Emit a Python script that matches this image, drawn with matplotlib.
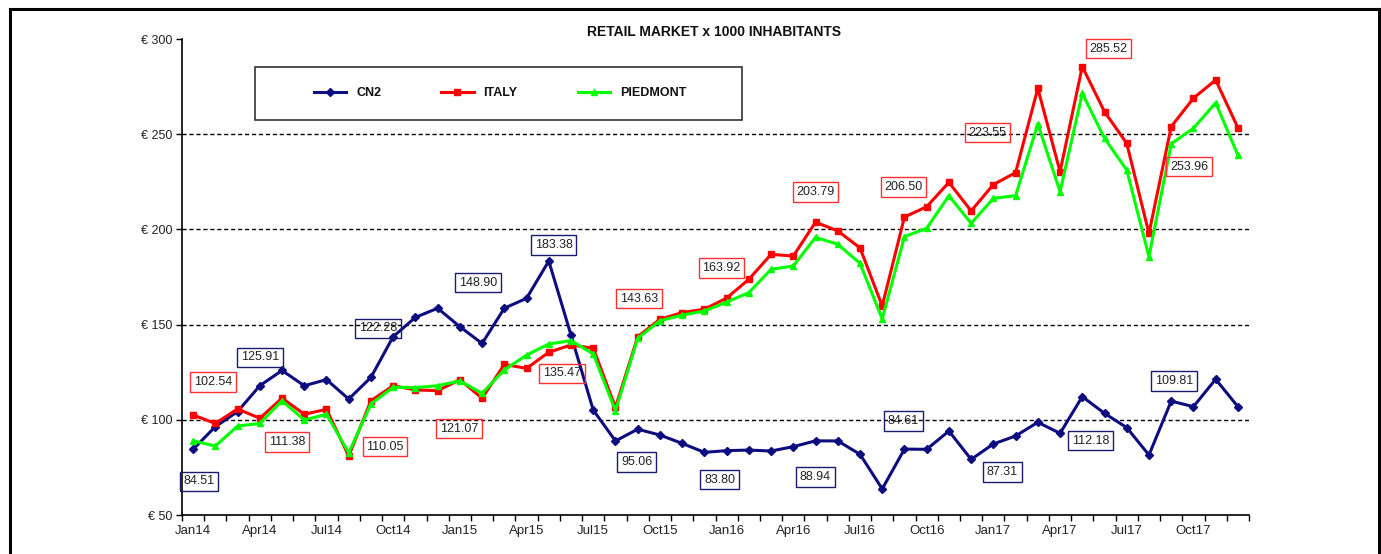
import matplotlib
matplotlib.use("Agg")
import matplotlib.pyplot as plt
from matplotlib.patches import Rectangle
from matplotlib.lines import Line2D

plt.rcParams['font.family'] = ['Liberation Sans', 'DejaVu Sans']

months = ["Jan", "Feb", "Mar", "Apr", "May", "Jun", "Jul", "Aug", "Sep", "Oct", "Nov", "Dec"]
categories = [m + y for y in ["14", "15", "16", "17"] for m in months]
tick_labels = [c for i, c in enumerate(categories) if i % 3 == 0]

cn2 = [84.51, 96.4, 104.3, 117.9, 125.91, 117.9, 121.1, 110.9, 122.28, 143.7, 153.8, 158.6,
       148.90, 140.1, 158.6, 163.8, 183.38, 144.5, 105.1, 88.9, 95.06, 92.0, 87.6, 82.9,
       83.80, 84.1, 83.6, 85.9, 88.94, 88.9, 81.9, 63.69, 84.61, 84.5, 94.1, 79.2,
       87.31, 91.5, 98.7, 92.9, 112.18, 103.4, 95.9, 81.5, 109.81, 106.9, 121.3, 106.9]
italy = [102.54, 98.1, 105.7, 100.8, 111.38, 102.9, 105.5, 81.0, 110.05, 117.9, 115.7, 115.3,
         121.07, 111.3, 129.1, 127.0, 135.47, 139.3, 137.6, 106.5, 143.63, 152.8, 156.3, 158.1,
         163.92, 173.8, 186.9, 186.0, 203.79, 199.2, 190.3, 159.8, 206.50, 211.9, 224.7, 209.7,
         223.55, 229.8, 274.1, 230.3, 285.52, 261.8, 245.2, 197.9, 253.96, 268.9, 278.5, 253.4]
piedmont = [89.0, 86.2, 96.7, 98.1, 110.0, 99.9, 102.9, 82.7, 108.3, 117.1, 116.9, 117.9,
            120.4, 113.9, 126.2, 134.0, 139.8, 141.6, 134.6, 104.8, 142.8, 152.0, 155.0, 157.1,
            161.8, 166.8, 179.0, 180.8, 195.8, 192.2, 182.2, 153.0, 196.2, 200.6, 217.7, 203.2,
            216.3, 217.7, 255.4, 219.8, 271.5, 247.8, 231.2, 185.7, 244.9, 253.1, 266.5, 239.1]

series_names = ["CN2", "ITALY", "PIEDMONT"]
series_colors = ["#0d0d80", "#ff0000", "#00ff00"]

# data labels: (index, offset in pixels)
cn2_labels = [(0, (6, -32)), (4, (-22, 13)), (8, (7, 49)), (12, (18, 44)), (16, (5, 16)),
              (20, (-1, -33)), (24, (-7, -29)), (28, (0, -36)), (32, (-1, 28)),
              (36, (9, -28)), (40, (8, -44)), (44, (3, 20))]
italy_labels = [(0, (20, 33)), (4, (5, -44)), (8, (14, -46)), (12, (-1, -49)), (16, (13, -21)),
                (20, (1, 38)), (24, (-5, 30)), (28, (0, 30)), (32, (-1, 30)),
                (36, (-6, 52)), (40, (26, 18)), (44, (18, -40))]

W, H = 1381, 554
fig = plt.figure(figsize=(W / 100, H / 100), dpi=100)
ax = fig.add_axes([182 / W, 1 - 515 / H, (1249 - 182) / W, (515 - 39) / H])

x = list(range(len(categories)))
ax.plot(x, cn2, color=series_colors[0], lw=2.2, marker="D", ms=4.5, label=series_names[0], zorder=3)
ax.plot(x, italy, color=series_colors[1], lw=2.2, marker="s", ms=5, label=series_names[1], zorder=4)
ax.plot(x, piedmont, color=series_colors[2], lw=2.2, marker="^", ms=4.5, label=series_names[2], zorder=5)

ax.set_xlim(-0.5, len(categories) - 0.5)
ax.set_ylim(50, 300)
yt = [50, 100, 150, 200, 250, 300]
ax.set_yticks(yt)
ax.set_yticklabels(["€ %d" % v for v in yt], fontsize=9, color="#222222")
for v in yt[1:-1]:
    ax.axhline(v, color="black", ls=(0, (3, 2)), lw=1.0, zorder=1)

ax.set_xticks([i for i in x if i % 3 == 0])
ax.set_xticklabels(tick_labels, fontsize=9.5, color="#222222")
ax.set_xticks([i - 0.5 for i in range(len(categories) + 1)], minor=True)
ax.tick_params(axis="x", which="major", length=0, pad=7)
ax.tick_params(axis="x", which="minor", length=4, width=1, direction="out")
ax.tick_params(axis="y", length=4, width=1, direction="out", pad=3)

for s in ["top", "right"]:
    ax.spines[s].set_visible(False)
for s in ["left", "bottom"]:
    ax.spines[s].set_linewidth(1.2)

def add_labels(values, labels, color):
    for i, off in labels:
        ax.annotate("%.2f" % values[i], xy=(i, values[i]), xytext=off,
                    textcoords="offset pixels", ha="center", va="center",
                    fontsize=9, color="#222222", zorder=6,
                    bbox=dict(boxstyle="square,pad=0.3", fc="none", ec=color, lw=1.0))

add_labels(cn2, cn2_labels, "#1a1a6e")
add_labels(italy, italy_labels, "#ff3030")

fig.text(714 / W, 1 - 32 / H, "RETAIL MARKET x 1000 INHABITANTS", ha="center", va="center",
         fontsize=10, fontweight="bold", color="#111111")

# legend box
fig.add_artist(Rectangle((255 / W, 1 - 120 / H), (742 - 255) / W, (120 - 67) / H,
                         transform=fig.transFigure, fill=False, ec="#333333", lw=1.2))
leg = fig.legend(loc="center", bbox_to_anchor=(500 / W, 1 - 93 / H), ncol=3, frameon=False,
                 fontsize=9, columnspacing=4.8, handlelength=2.6, handletextpad=0.8)
for t in leg.get_texts():
    t.set_fontweight("bold")
    t.set_color("#111111")

# outer frame
fig.add_artist(Line2D([10 / W, 1379 / W], [1 - 8.5 / H, 1 - 8.5 / H], color="black", lw=2.2))
fig.add_artist(Line2D([10 / W, 10 / W], [0, 1 - 8.5 / H], color="black", lw=2.2))
fig.add_artist(Line2D([1379 / W, 1379 / W], [0, 1 - 8.5 / H], color="black", lw=2.2))

fig.savefig("out.png", dpi=100)
